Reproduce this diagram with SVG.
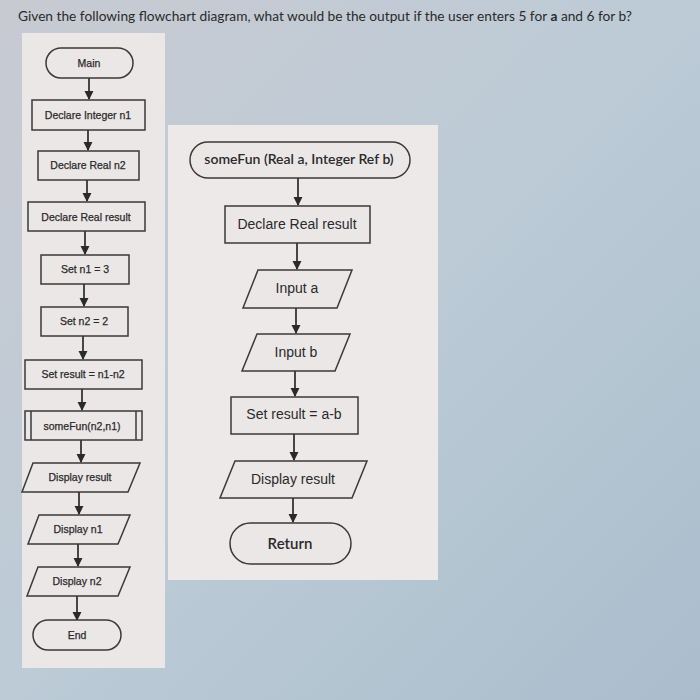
<svg xmlns="http://www.w3.org/2000/svg" width="700" height="700" viewBox="0 0 700 700">
<defs>
<linearGradient id="bg" x1="0" y1="0" x2="1" y2="1">
<stop offset="0" stop-color="#c8cad2"/>
<stop offset="0.5" stop-color="#bccbd6"/>
<stop offset="1" stop-color="#aabdcc"/>
</linearGradient>
<marker id="ah" viewBox="0 0 10 10" refX="9" refY="5" markerWidth="5.5" markerHeight="5.5" orient="auto">
<path d="M0,0 L10,5 L0,10 z" fill="#2a2a2a"/>
</marker>
<style>
.s{fill:none;stroke:#3a3a3a;stroke-width:1.5}
.f{fill:#ebe7e7;stroke:#3a3a3a;stroke-width:1.5}
.c{stroke:#2a2a2a;stroke-width:1.7;fill:none;marker-end:url(#ah)}
.t1{font-family:"Liberation Sans",Arial,sans-serif;font-size:10.5px;fill:#2a2a2a;stroke:#2a2a2a;stroke-width:0.25;text-anchor:middle}
.t2{font-family:"Liberation Sans",Arial,sans-serif;font-size:14px;fill:#2a2a2a;text-anchor:middle}
.t3{font-family:Lato,"Open Sans",sans-serif;font-size:14px;font-weight:600;fill:#2a2a2a;text-anchor:middle}
.title{font-family:Lato,"Open Sans",sans-serif;font-size:13px;fill:#2a2a2a}
</style>
</defs>
<rect width="700" height="700" fill="url(#bg)"/>
<text class="title" x="18" y="21" textLength="614" lengthAdjust="spacingAndGlyphs">Given the following flowchart diagram, what would be the output if the user enters 5 for <tspan font-weight="bold">a</tspan> and 6 for b?</text>

<rect x="22" y="33" width="143" height="635" fill="#ebe7e7"/>
<rect x="168" y="125" width="270" height="455" fill="#ece9e8"/>

<g id="connectors">
<line class="c" x1="89" y1="78" x2="89" y2="99"/>
<line class="c" x1="88" y1="130" x2="88" y2="150"/>
<line class="c" x1="87" y1="180" x2="87" y2="201"/>
<line class="c" x1="85" y1="231" x2="85" y2="254"/>
<line class="c" x1="84" y1="284" x2="84" y2="306"/>
<line class="c" x1="83" y1="336" x2="83" y2="359"/>
<line class="c" x1="82" y1="389" x2="82" y2="410"/>
<line class="c" x1="81" y1="440" x2="81" y2="462"/>
<line class="c" x1="79" y1="492" x2="79" y2="514"/>
<line class="c" x1="78" y1="544" x2="78" y2="566"/>
<line class="c" x1="77" y1="596" x2="77" y2="620"/>
<line class="c" x1="298" y1="178" x2="298" y2="205"/>
<line class="c" x1="297" y1="243" x2="297" y2="269"/>
<line class="c" x1="296" y1="308" x2="296" y2="333"/>
<line class="c" x1="295" y1="371" x2="295" y2="396"/>
<line class="c" x1="294" y1="434" x2="294" y2="460"/>
<line class="c" x1="293" y1="498" x2="293" y2="522"/>
</g>

<g id="main"><rect class="f" x="46" y="48" width="87" height="30" rx="15"/><text class="t1" x="89" y="67">Main</text></g>
<g id="decl-n1"><rect class="f" x="32" y="100" width="113" height="30"/><text class="t1" x="88" y="119">Declare Integer n1</text></g>
<g id="decl-n2"><rect class="f" x="38" y="151" width="101" height="29"/><text class="t1" x="88" y="169">Declare Real n2</text></g>
<g id="decl-result"><rect class="f" x="28" y="202" width="117" height="29"/><text class="t1" x="86" y="221">Declare Real result</text></g>
<g id="set-n1"><rect class="f" x="41" y="255" width="88" height="29"/><text class="t1" x="85" y="273">Set n1 = 3</text></g>
<g id="set-n2"><rect class="f" x="41" y="307" width="87" height="29"/><text class="t1" x="84" y="325">Set n2 = 2</text></g>
<g id="set-result"><rect class="f" x="25" y="360" width="117" height="29"/><text class="t1" x="83" y="378">Set result = n1-n2</text></g>
<g id="call-somefun"><rect class="f" x="25" y="411" width="117" height="29"/><line class="s" x1="31" y1="411" x2="31" y2="440"/><line class="s" x1="136" y1="411" x2="136" y2="440"/><text class="t1" x="82" y="430">someFun(n2,n1)</text></g>
<g id="disp-result"><polygon class="f" points="33,463 140,463 128,492 22,492"/><text class="t1" x="80" y="481">Display result</text></g>
<g id="disp-n1"><polygon class="f" points="39,515 130,515 118,544 28,544"/><text class="t1" x="78" y="533">Display n1</text></g>
<g id="disp-n2"><polygon class="f" points="38,567 130,567 118,596 27,596"/><text class="t1" x="77" y="585">Display n2</text></g>
<g id="end"><rect class="f" x="33" y="620" width="88" height="30" rx="15"/><text class="t1" x="77" y="639">End</text></g>

<g id="somefun"><rect class="f" x="190" y="142" width="220" height="36" rx="18"/><text class="t3" x="299" y="164">someFun (Real a, Integer Ref b)</text></g>
<g id="r-decl-result"><rect class="f" x="225" y="206" width="145" height="37"/><text class="t2" x="297" y="229">Declare Real result</text></g>
<g id="input-a"><polygon class="f" points="258,270 352,270 337,308 243,308"/><text class="t2" x="297" y="293">Input a</text></g>
<g id="input-b"><polygon class="f" points="257,334 350,334 335,371 242,371"/><text class="t2" x="296" y="357">Input b</text></g>
<g id="set-ab"><rect class="f" x="231" y="397" width="127" height="37"/><text class="t2" x="294" y="419">Set result = a-b</text></g>
<g id="r-disp-result"><polygon class="f" points="235,461 367,461 352,498 220,498"/><text class="t2" x="293" y="484">Display result</text></g>
<g id="return"><rect class="f" x="230" y="523" width="121" height="41" rx="20.5"/><text class="t2" x="290" y="549" style="font-family:Lato,'Open Sans',sans-serif;font-size:15px;font-weight:600">Return</text></g>
</svg>
